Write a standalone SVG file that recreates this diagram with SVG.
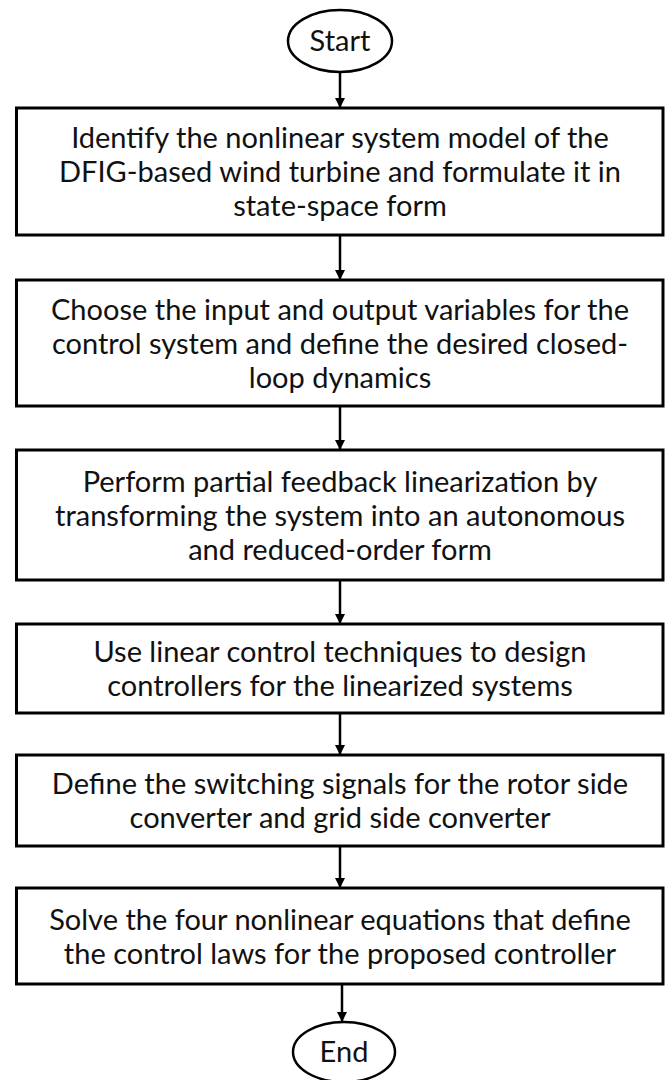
<svg xmlns="http://www.w3.org/2000/svg" width="671" height="1080" viewBox="0 0 671 1080">
<style>
.box{fill:#fff;stroke:#000;stroke-width:3}
.term{fill:#fff;stroke:#000;stroke-width:2.5}
.t{font-family:Lato,"Open Sans",sans-serif;font-size:29px;fill:#111;text-anchor:middle}
.c{stroke:#000;stroke-width:2.5;fill:none;marker-end:url(#ah)}
</style>
<defs>
<marker id="ah" markerWidth="10" markerHeight="10" refX="9" refY="5" orient="auto" markerUnits="userSpaceOnUse">
<path d="M0,0 L10,5 L0,10 Z" fill="#000"/>
</marker>
</defs>
<rect width="671" height="1080" fill="#fff"/>
<g id="connectors">
<line class="c" x1="340" y1="72" x2="340" y2="107"/>
<line class="c" x1="340" y1="236" x2="340" y2="279"/>
<line class="c" x1="340" y1="407" x2="340" y2="449"/>
<line class="c" x1="340" y1="581" x2="340" y2="623"/>
<line class="c" x1="340" y1="714" x2="340" y2="754"/>
<line class="c" x1="340" y1="847" x2="340" y2="887"/>
<line class="c" x1="342" y1="985" x2="342" y2="1021"/>
</g>
<g id="start">
<ellipse class="term" cx="340" cy="41" rx="52" ry="31"/>
<text class="t" x="340" y="51">Start</text>
</g>
<g id="step1">
<rect class="box" x="16.5" y="108" width="646.5" height="127"/>
<text class="t" x="340" y="148">Identify the nonlinear system model of the</text>
<text class="t" x="340" y="182">DFIG-based wind turbine and formulate it in</text>
<text class="t" x="340" y="216">state-space form</text>
</g>
<g id="step2">
<rect class="box" x="16.5" y="280" width="646.5" height="126"/>
<text class="t" x="340" y="320">Choose the input and output variables for the</text>
<text class="t" x="340" y="354">control system and define the desired closed-</text>
<text class="t" x="340" y="388">loop dynamics</text>
</g>
<g id="step3">
<rect class="box" x="16.5" y="450" width="646.5" height="130"/>
<text class="t" x="340" y="492">Perform partial feedback linearization by</text>
<text class="t" x="340" y="526">transforming the system into an autonomous</text>
<text class="t" x="340" y="560">and reduced-order form</text>
</g>
<g id="step4">
<rect class="box" x="16.5" y="624" width="646.5" height="89"/>
<text class="t" x="340" y="662">Use linear control techniques to design</text>
<text class="t" x="340" y="696">controllers for the linearized systems</text>
</g>
<g id="step5">
<rect class="box" x="16.5" y="755" width="646.5" height="91"/>
<text class="t" x="340" y="794">Define the switching signals for the rotor side</text>
<text class="t" x="340" y="828">converter and grid side converter</text>
</g>
<g id="step6">
<rect class="box" x="16.5" y="888" width="646.5" height="96"/>
<text class="t" x="340" y="930">Solve the four nonlinear equations that define</text>
<text class="t" x="340" y="964">the control laws for the proposed controller</text>
</g>
<g id="end">
<ellipse class="term" cx="344" cy="1052" rx="51" ry="30"/>
<text class="t" x="344" y="1062">End</text>
</g>
</svg>
